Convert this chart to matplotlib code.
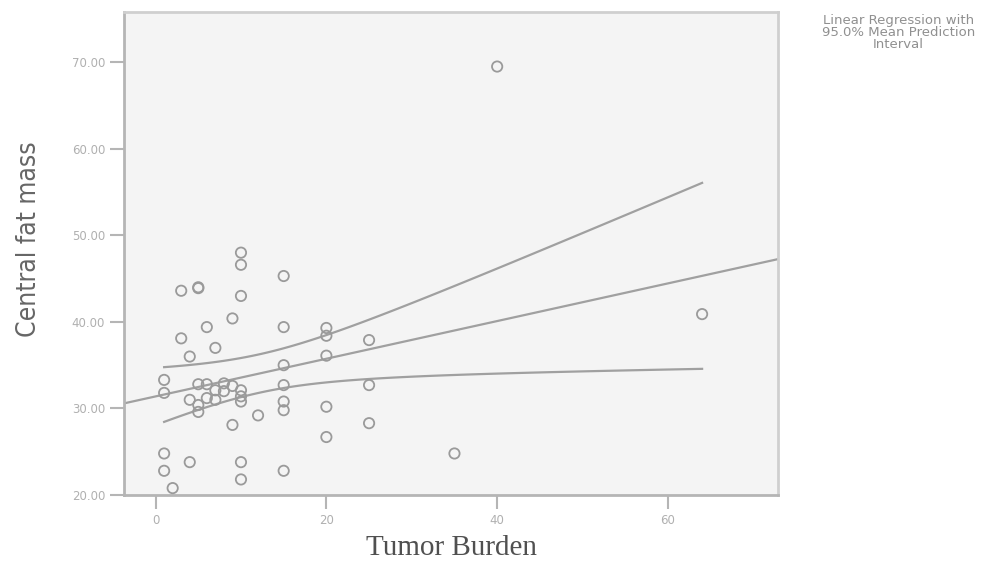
import matplotlib
matplotlib.use("Agg")
import matplotlib.pyplot as plt
import numpy as np

# tumor burden (x) and central fat mass (y)
tumor_burden = [40, 64, 35, 10, 10, 15, 3, 5, 5, 10, 9, 6, 15, 20, 20, 3, 25, 7, 4, 20,
                15, 1, 1, 15, 25, 15, 15, 20, 12, 9, 25, 20, 1, 4, 10, 1, 15, 10, 2,
                5, 6, 7, 8, 9, 10, 10, 7, 5, 5, 4, 6, 8, 10]
fat_mass = [69.5, 40.9, 24.8, 48.0, 46.6, 45.3, 43.6, 43.9, 44.0, 43.0, 40.4, 39.4, 39.4, 39.3, 38.4,
            38.1, 37.9, 37.0, 36.0, 36.1, 35.0, 33.3, 31.8, 32.7, 32.7, 30.8, 29.8, 30.2, 29.2, 28.1,
            28.3, 26.7, 24.8, 23.8, 23.8, 22.8, 22.8, 21.8, 20.8,
            32.8, 32.8, 32.1, 32.9, 32.6, 32.1, 31.4, 31.0, 30.4, 29.6, 31.0, 31.2, 32.0, 30.8]

y_ticks = [20, 30, 40, 50, 60, 70]
x_ticks = [0, 20, 40, 60]
t_crit = 2.01  # t(0.975, n-2)

x = np.array(tumor_burden, dtype=float)
y = np.array(fat_mass, dtype=float)
n = len(x)
slope, intercept = np.polyfit(x, y, 1)
resid = y - (intercept + slope * x)
s = np.sqrt(np.sum(resid ** 2) / (n - 2))
xbar = x.mean()
sxx = np.sum((x - xbar) ** 2)

fig = plt.figure(figsize=(10.04, 5.61), dpi=100)
ax = fig.add_axes([0.1235, 0.1176, 0.6515, 0.861])
ax.set_facecolor("#f4f4f4")

ax.scatter(x, y, s=55, facecolors="none", edgecolors="#9a9a9a", linewidths=1.3, zorder=3)

xmin, xmax = -3.7, 72.9
xl = np.array([xmin, xmax])
ax.plot(xl, intercept + slope * xl, color="#a0a0a0", lw=1.6, zorder=2)

# 95% band for the mean, only over the observed burden range
xc = np.linspace(x.min(), x.max(), 100)
half = t_crit * s * np.sqrt(1 / n + (xc - xbar) ** 2 / sxx)
yc = intercept + slope * xc
ax.plot(xc, yc + half, color="#a0a0a0", lw=1.6, zorder=2)
ax.plot(xc, yc - half, color="#a0a0a0", lw=1.6, zorder=2)

ax.set_xlim(xmin, xmax)
ax.set_ylim(20, 75.8)
ax.set_xticks(x_ticks)
ax.set_xticklabels([str(v) for v in x_ticks])
ax.set_yticks(y_ticks)
ax.set_yticklabels(["%.2f" % v for v in y_ticks])
ax.tick_params(axis="both", direction="out", length=10, width=1.5, color="#b5b5b5",
               labelcolor="#b0b0b0", labelsize=8.5)

for side in ["top", "right"]:
    ax.spines[side].set_color("#cfcfcf")
    ax.spines[side].set_linewidth(2)
for side in ["left", "bottom"]:
    ax.spines[side].set_color("#b5b5b5")
    ax.spines[side].set_linewidth(2)

ax.set_xlabel("Tumor Burden", family="Liberation Serif", fontsize=21, color="#505050", labelpad=6)
ax.set_ylabel("Central fat mass", family="DejaVu Sans", fontstretch="condensed", fontsize=19,
              color="#666666")
ax.yaxis.set_label_coords(-0.125, 0.53)

fig.text(0.895, 0.975, "Linear Regression with\n95.0% Mean Prediction\nInterval",
         ha="center", va="top", fontsize=9.5, color="#909090", linespacing=0.9)

fig.savefig("out.png", dpi=100, facecolor="white")
